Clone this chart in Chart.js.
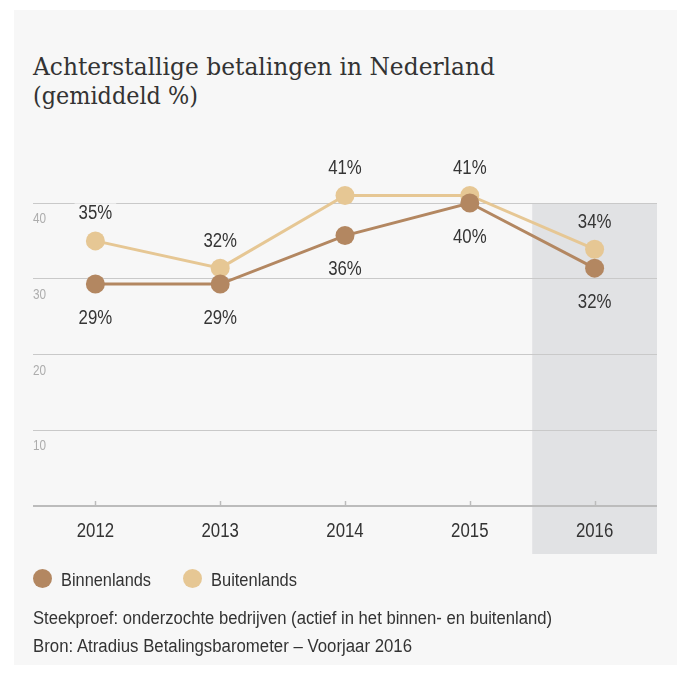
<!DOCTYPE html>
<html><head><meta charset="utf-8">
<script src="https://cdn.jsdelivr.net/npm/chart.js@4"></script>
<style>
html,body{margin:0;padding:0;background:#fff;width:681px;height:675px;overflow:hidden}
#panel{position:absolute;left:14px;top:10px;width:663px;height:655px;background:#f7f7f7}
.ttl{position:absolute;left:33px;font-family:'DejaVu Serif',serif;font-size:25px;line-height:29px;color:#333;white-space:nowrap;transform-origin:0 0}
canvas{position:absolute;left:0;top:0}
.txt{position:absolute;font-family:'Liberation Sans',Arial,sans-serif;font-size:18px;color:#333;white-space:nowrap;line-height:22px;transform-origin:0 0}
.dot{position:absolute;width:19px;height:19px;border-radius:50%}
</style></head>
<body>
<div id="panel"></div>
<div class="ttl" style="top:52px" data-w="462">Achterstallige betalingen in Nederland</div>
<div class="ttl" style="top:81px" data-w="165">(gemiddeld %)</div>
<canvas id="c" width="681" height="675" style="width:681px;height:675px"></canvas>
<div class="dot" style="left:33px;top:569px;background:#b38761"></div>
<div class="txt" style="left:61px;top:569px;font-size:18.5px" data-w="90">Binnenlands</div>
<div class="dot" style="left:183px;top:569px;background:#e6c794"></div>
<div class="txt" style="left:211px;top:569px;font-size:18.5px" data-w="86">Buitenlands</div>
<div class="txt" style="left:33px;top:607px" data-w="519">Steekproef: onderzochte bedrijven (actief in het binnen- en buitenland)</div>
<div class="txt" style="left:33px;top:635px" data-w="379">Bron: Atradius Betalingsbarometer – Voorjaar 2016</div>
<script>
const years = ['2012', '2013', '2014', '2015', '2016'];
const binnenlands = [29.3, 29.3, 35.7, 40.0, 31.4];
const buitenlands = [35.0, 31.4, 41.0, 41.0, 33.9];
const binnenlandsLabels = ['29%', '29%', '36%', '40%', '32%'];
const buitenlandsLabels = ['35%', '32%', '41%', '41%', '34%'];
const yTickValues = [10, 20, 30, 40];
const highlightIndex = 4;

// squeeze HTML text horizontally to the reference widths (condensed face not installed)
document.querySelectorAll('[data-w]').forEach(el => {
  const w = el.getBoundingClientRect().width;
  el.style.transform = 'scaleX(' + (parseFloat(el.dataset.w) / w) + ')';
});

const BROWN = '#b38761', TAN = '#e6c794', PANEL = '#f7f7f7', SHADE = '#e1e2e4';
const SANS = "'Liberation Sans',Arial,sans-serif";
const SQ = 0.84;

function narrowText(ctx, txt, x, y, size, color, align) {
  ctx.save();
  ctx.font = size + 'px ' + SANS;
  ctx.fillStyle = color;
  ctx.textAlign = align;
  ctx.textBaseline = 'alphabetic';
  ctx.translate(x, y);
  ctx.scale(SQ, 1);
  ctx.fillText(txt, 0, 0);
  ctx.restore();
}

const decor = {
  id: 'decor',
  beforeDraw(chart) {
    const {ctx, chartArea, scales: {x}} = chart;
    const half = (chartArea.right - chartArea.left) / years.length / 2;
    const left = x.getPixelForValue(highlightIndex) - half;
    ctx.save();
    ctx.fillStyle = SHADE;
    ctx.fillRect(left, chartArea.top, chartArea.right - left, chartArea.bottom - chartArea.top + 48);
    ctx.restore();
  },
  beforeDatasetsDraw(chart) {
    const {ctx, chartArea, scales: {x, y}} = chart;
    const y0 = y.getPixelForValue(0);
    ctx.save();
    ctx.strokeStyle = '#bcbcbc';
    ctx.lineWidth = 2;
    ctx.beginPath();
    ctx.moveTo(chartArea.left, y0);
    ctx.lineTo(chartArea.right, y0);
    ctx.stroke();
    ctx.lineWidth = 1.5;
    years.forEach((yr, i) => {
      const px = Math.round(x.getPixelForValue(i)) + 0.5;
      ctx.beginPath();
      ctx.moveTo(px, y0);
      ctx.lineTo(px, y0 - 5);
      ctx.stroke();
      narrowText(ctx, yr, x.getPixelForValue(i), y0 + 31, 20, '#333', 'center');
    });
    ctx.restore();
    yTickValues.forEach(v => narrowText(ctx, String(v), chartArea.left, y.getPixelForValue(v) + 20, 14, '#adadad', 'left'));
  },
  afterDatasetsDraw(chart) {
    const {ctx} = chart;
    const draw = (txt, px, base, i) => {
      ctx.save();
      ctx.font = '20px ' + SANS;
      const w = ctx.measureText(txt).width * SQ + 8;
      ctx.fillStyle = i === highlightIndex ? SHADE : PANEL;
      ctx.fillRect(px - w / 2, base - 16, w, 18);
      ctx.restore();
      narrowText(ctx, txt, px, base, 20, '#353535', 'center');
    };
    const mB = chart.getDatasetMeta(0), mT = chart.getDatasetMeta(1);
    years.forEach((_, i) => {
      const pb = mB.data[i], pt = mT.data[i];
      draw(buitenlandsLabels[i], pt.x, pt.y - 21.5, i);
      draw(binnenlandsLabels[i], pb.x, pb.y + 39.5, i);
    });
  }
};

new Chart(document.getElementById('c'), {
  type: 'line',
  data: {
    labels: years,
    datasets: [
      {label: 'Binnenlands', data: binnenlands, borderColor: BROWN, backgroundColor: BROWN,
       borderWidth: 3, pointRadius: 9.5, pointBorderWidth: 0, pointBackgroundColor: BROWN, tension: 0, clip: false},
      {label: 'Buitenlands', data: buitenlands, borderColor: TAN, backgroundColor: TAN,
       borderWidth: 3, pointRadius: 9.5, pointBorderWidth: 0, pointBackgroundColor: TAN, tension: 0, clip: false}
    ]
  },
  options: {
    responsive: false,
    animation: false,
    layout: {padding: {left: 33, right: 24, top: 203, bottom: 129}},
    plugins: {legend: {display: false}, tooltip: {enabled: false}},
    scales: {
      x: {
        type: 'category', offset: true,
        grid: {display: false}, border: {display: false},
        ticks: {display: false},
        afterFit: s => { s.height = 40; }
      },
      y: {
        min: 0, max: 40,
        ticks: {display: false, stepSize: 10},
        grid: {drawTicks: false, color: c => c.tick.value === 0 ? 'rgba(0,0,0,0)' : '#c9c9c9', lineWidth: 1},
        border: {display: false},
        afterFit: s => { s.width = 0; }
      }
    }
  },
  plugins: [decor]
});
</script>
</body></html>
